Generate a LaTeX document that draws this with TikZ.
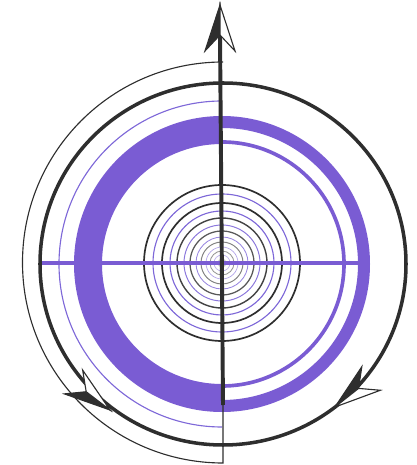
\documentclass[tikz,border=0pt]{standalone}
\usepackage{tikz}
\usetikzlibrary{calc}
\definecolor{cband}{HTML}{7A5CD3}
\definecolor{cthin}{HTML}{7E68D8}
\definecolor{cink}{HTML}{2E2E2E}
\tikzset{
  band/.style={fill=cband},
  thinpurple/.style={draw=cthin, line width=0.8pt},
  ringline/.style={draw=cink, line width=2.5pt},
  orbit/.style={draw=cink, line width=0.8pt},
  axisline/.style={draw=cink, line width=2.8pt},
  halfhead/.pic={
    \filldraw[fill=cink, draw=cink, line width=0.8pt, line join=miter]
      (0,0) -- (-46,15) -- (-30,0) -- cycle;
    \filldraw[fill=white, draw=cink, line width=0.8pt, line join=miter]
      (0,0) -- (-46,-15) -- (-30,0) -- cycle;
  },
}
\begin{document}
\begin{tikzpicture}[x=0.025cm, y=0.025cm]
  \useasboundingbox (-222,-201) rectangle (194,264);
  % bands
  \fill[band] (0,148) arc[start angle=90, end angle=270, radius=148]
    -- (0,-120) arc[start angle=270, end angle=90, radius=120] -- cycle;
  \fill[band] (0,148) arc[start angle=90, end angle=-90, radius=148]
    -- (0,-136) arc[start angle=-90, end angle=90, radius=136] -- cycle;
  \draw[thinpurple] (0,163) arc[start angle=90, end angle=270, radius=163];
  \draw[draw=cband, line width=2.6pt] (0,122) arc[start angle=90, end angle=-90, radius=122];
  % target rings
  \foreach \r/\c/\w/\o in {78/cink/1.2/1, 69/cthin/0.8/1, 60/cink/1.2/1, 52/cthin/0.8/1,
      45/cink/1.0/0.9, 38/cthin/0.7/0.9, 32/cink/0.9/0.8, 26/cthin/0.6/0.8,
      21/cink/0.7/0.6, 16/cthin/0.5/0.6, 12/cink/0.6/0.5, 8/cthin/0.5/0.5, 4/cink/0.5/0.4}
    \draw[draw=\c, line width=\w pt, opacity=\o] (0,1) circle[radius=\r];
  \draw[draw=cband, line width=2.8pt] (-182,1) -- (138,1);
  % outer circle and orbit
  \draw[ringline] (1,0) ellipse[x radius=183, y radius=181];
  \coordinate (low) at (1,-141);
  \coordinate (foot) at (1,-199);
  \coordinate (top) at (-1,202);
  \draw[orbit] (low) -- (foot) arc[start angle=-90, end angle=-270, radius=200.5] -- (top);
  % axis
  \coordinate (tip) at (-2,259);
  \draw[axisline] (low) -- ($(tip)+(0,-30)$);
  \path (tip) pic[rotate=90] {halfhead};
  \path (-112,-146) pic[rotate=-37.5, yscale=-1] {halfhead};
  \path (113,-143) pic[rotate=218.3, yscale=-1] {halfhead};
\end{tikzpicture}
\end{document}
